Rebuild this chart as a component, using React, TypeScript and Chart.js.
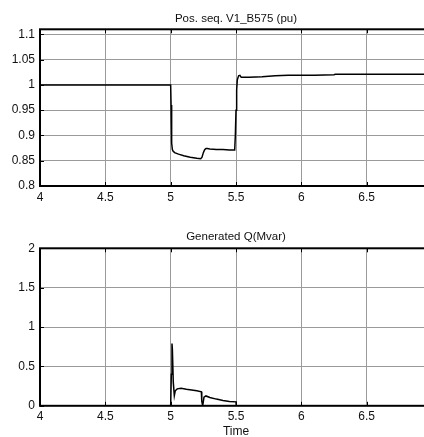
import React, { useEffect, useRef } from "react";
import { Chart, registerables } from "chart.js";
Chart.register(...registerables);

// ---- data ----
const xMin = 4;
const xMax = 7;
const xTicks = [4, 4.5, 5, 5.5, 6, 6.5];
const xTickLabels = ["4", "4.5", "5", "5.5", "6", "6.5"];

const vTitle = "Pos. seq. V1_B575 (pu)";
const vMin = 0.8;
const vMax = 1.11;
const vTicks = [0.8, 0.85, 0.9, 0.95, 1, 1.05, 1.1];
const vTickLabels = ["0.8", "0.85", "0.9", "0.95", "1", "1.05", "1.1"];
const vTime = [4, 5.0, 5.003, 5.006, 5.009, 5.013, 5.018, 5.03, 5.06, 5.1, 5.15, 5.2, 5.23, 5.24, 5.25, 5.26, 5.27, 5.28, 5.3, 5.35, 5.4, 5.45, 5.49, 5.495, 5.5, 5.505, 5.51, 5.52, 5.53, 5.54, 5.6, 5.7, 5.8, 5.9, 6.0, 6.1, 6.25, 6.26, 7.0];
const vValue = [1, 1, 0.96, 0.92, 0.885, 0.872, 0.869, 0.866, 0.863, 0.86, 0.857, 0.855, 0.854, 0.857, 0.866, 0.872, 0.874, 0.874, 0.873, 0.872, 0.872, 0.871, 0.871, 0.9, 0.95, 0.99, 1.01, 1.018, 1.019, 1.015, 1.015, 1.016, 1.018, 1.019, 1.019, 1.019, 1.02, 1.021, 1.021];

const qTitle = "Generated Q(Mvar)";
const qMin = 0;
const qMax = 2;
const qTicks = [0, 0.5, 1, 1.5, 2];
const qTickLabels = ["0", "0.5", "1", "1.5", "2"];
const qTime = [4, 5.0, 5.005, 5.01, 5.013, 5.02, 5.028, 5.035, 5.05, 5.08, 5.12, 5.16, 5.2, 5.235, 5.238, 5.245, 5.255, 5.27, 5.3, 5.35, 5.4, 5.45, 5.5, 5.502, 7];
const qValue = [0, 0, 0.4, 0.79, 0.72, 0.3, 0.13, 0.19, 0.215, 0.222, 0.21, 0.2, 0.19, 0.178, 0.06, 0, 0.11, 0.125, 0.105, 0.085, 0.068, 0.056, 0.05, 0, 0];

const xLabel = "Time";

// ---- styles ----
const FONT = "'Liberation Sans', Arial, Helvetica, sans-serif";
const TEXT = "#111";
const GRID = "#9a9a9a";
const W = 432;

const framePlugin = {
  id: "frame",
  beforeDatasetsDraw(chart: any) {
    const { ctx, chartArea: a, scales } = chart;
    ctx.save();
    ctx.strokeStyle = "#000";
    ctx.lineWidth = 1;
    ctx.beginPath();
    for (const t of scales.x.ticks) {
      const px = Math.round(scales.x.getPixelForValue(t.value)) + 0.5;
      ctx.moveTo(px, a.top);
      ctx.lineTo(px, a.top + 4);
      ctx.moveTo(px, a.bottom);
      ctx.lineTo(px, a.bottom - 4);
    }
    for (const t of scales.y.ticks) {
      const py = Math.round(scales.y.getPixelForValue(t.value)) + 0.5;
      ctx.moveTo(a.left, py);
      ctx.lineTo(a.left + 4, py);
      ctx.moveTo(a.right, py);
      ctx.lineTo(a.right - 4, py);
    }
    ctx.stroke();
    ctx.lineWidth = 2;
    ctx.strokeRect(a.left, a.top, a.right - a.left, a.bottom - a.top);
    ctx.restore();
  },
};

function makeConfig(opts: {
  title: string;
  titlePad: { top: number; bottom: number };
  times: number[];
  values: number[];
  yMin: number;
  yMax: number;
  yTicks: number[];
  yLabels: string[];
  xAxisHeight: number;
  xTitle?: string;
}) {
  const data = opts.times.map((t, i) => ({ x: t, y: opts.values[i] }));
  return {
    type: "line" as const,
    data: {
      datasets: [
        {
          data,
          borderColor: "#000",
          borderWidth: 1.5,
          pointRadius: 0,
          tension: 0,
          fill: false,
        },
      ],
    },
    plugins: [framePlugin],
    options: {
      animation: false as const,
      responsive: false,
      devicePixelRatio: 1,
      layout: { padding: 0 },
      plugins: {
        legend: { display: false },
        tooltip: { enabled: false },
        title: {
          display: true,
          text: opts.title,
          fullSize: false,
          color: TEXT,
          font: { family: FONT, size: 11.5, weight: "normal" as const, lineHeight: 1.2 },
          padding: opts.titlePad,
        },
      },
      scales: {
        x: {
          type: "linear" as const,
          min: xMin,
          max: xMax,
          afterBuildTicks: (s: any) => {
            s.ticks = xTicks.map((v) => ({ value: v }));
          },
          afterFit: (s: any) => {
            s.height = opts.xAxisHeight;
          },
          grid: { color: GRID, lineWidth: 1, drawTicks: false },
          border: { display: false },
          ticks: {
            color: TEXT,
            font: { family: FONT, size: 12 },
            padding: 4,
            maxRotation: 0,
            autoSkip: false,
            callback: (v: any) => {
              const i = xTicks.indexOf(v);
              return i >= 0 ? xTickLabels[i] : "";
            },
          },
          title: opts.xTitle
            ? {
                display: true,
                text: opts.xTitle,
                color: TEXT,
                font: { family: FONT, size: 12 },
                padding: { top: 0, bottom: 6 },
              }
            : { display: false },
        },
        y: {
          type: "linear" as const,
          min: opts.yMin,
          max: opts.yMax,
          afterBuildTicks: (s: any) => {
            s.ticks = opts.yTicks.map((v) => ({ value: v }));
          },
          afterFit: (s: any) => {
            s.width = 40;
          },
          grid: { color: GRID, lineWidth: 1, drawTicks: false },
          border: { display: false },
          ticks: {
            color: TEXT,
            font: { family: FONT, size: 12 },
            padding: 5,
            autoSkip: false,
            callback: (v: any) => {
              const i = opts.yTicks.findIndex((t) => Math.abs(t - v) < 1e-9);
              return i >= 0 ? opts.yLabels[i] : "";
            },
          },
        },
      },
    },
  };
}

export default function App() {
  const c1 = useRef<HTMLCanvasElement>(null);
  const c2 = useRef<HTMLCanvasElement>(null);

  useEffect(() => {
    const ch1 = new Chart(
      c1.current!,
      makeConfig({
        title: vTitle,
        titlePad: { top: 12, bottom: 3.5 },
        times: vTime,
        values: vValue,
        yMin: vMin,
        yMax: vMax,
        yTicks: vTicks,
        yLabels: vTickLabels,
        xAxisHeight: 26,
      }) as any
    );
    const ch2 = new Chart(
      c2.current!,
      makeConfig({
        title: qTitle,
        titlePad: { top: 9.8, bottom: 4.7 },
        times: qTime,
        values: qValue,
        yMin: qMin,
        yMax: qMax,
        yTicks: qTicks,
        yLabels: qTickLabels,
        xAxisHeight: 39.2,
        xTitle: xLabel,
      }) as any
    );
    return () => {
      ch1.destroy();
      ch2.destroy();
    };
  }, []);

  return (
    <div
      style={{
        position: "fixed",
        left: 0,
        top: 0,
        width: 424,
        height: 437,
        overflow: "hidden",
        background: "#fff",
      }}
    >
      <canvas
        ref={c1}
        width={W}
        height={212}
        style={{ position: "absolute", left: 0, top: 0, width: W, height: 212 }}
      />
      <canvas
        ref={c2}
        width={W}
        height={225}
        style={{ position: "absolute", left: 0, top: 220, width: W, height: 225 }}
      />
    </div>
  );
}
